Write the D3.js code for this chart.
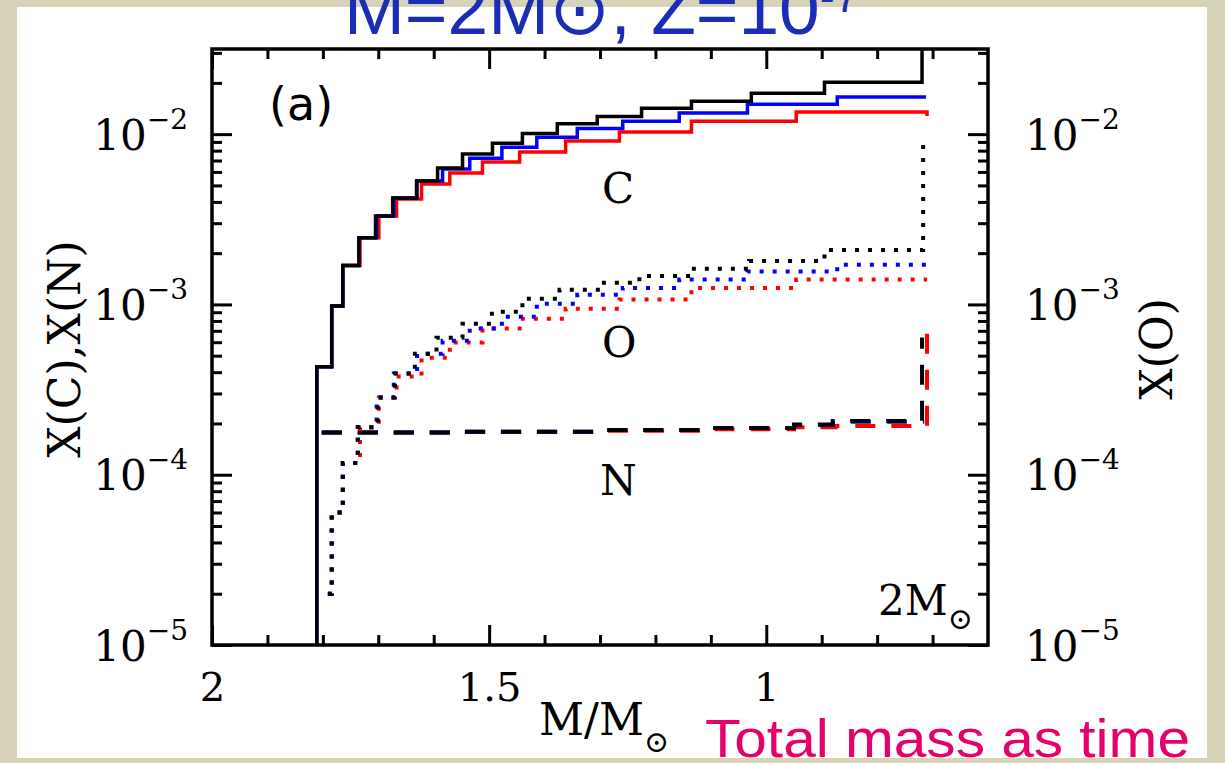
<!DOCTYPE html>
<html>
<head>
<meta charset="utf-8">
<script src="https://cdn.jsdelivr.net/npm/d3@7"></script>
<style>
  body { margin: 0; background: #d6d3b8; }
  svg { display: block; }
</style>
</head>
<body>
<div id="chart"></div>
<script>
// axis ranges
const massDomain = [2, 0.6];                    // M/Msun, decreasing with time
const abundDomain = [1e-5, Math.pow(10, -1.5)]; // surface mass fraction
const xMajor = [2, 1.5, 1];
const xMinor = [1.9, 1.8, 1.7, 1.6, 1.4, 1.3, 1.2, 1.1, 0.9, 0.8, 0.7];
const yDecades = [1e-5, 1e-4, 1e-3, 1e-2];
const yExponents = ["\u22125", "\u22124", "\u22123", "\u22122"];

// step curves: [M/Msun where the step starts, mass fraction]
// carbon (solid)
const cBlack = [[1.811, 1e-5], [1.811, 4.3e-4], [1.784, 9.8e-4], [1.764, 1.69e-3], [1.735, 2.46e-3],
  [1.705, 3.31e-3], [1.674, 4.22e-3], [1.631, 5.31e-3], [1.593, 6.32e-3], [1.548, 7.64e-3],
  [1.494, 8.85e-3], [1.440, 1.01e-2], [1.377, 1.15e-2], [1.305, 1.27e-2], [1.225, 1.42e-2],
  [1.135, 1.56e-2], [1.027, 1.74e-2], [0.895, 2.02e-2], [0.719, 5e-2]];
const cBlue = [[1.811, 1e-5], [1.811, 4.3e-4], [1.784, 9.8e-4], [1.764, 1.69e-3], [1.735, 2.46e-3],
  [1.703, 3.31e-3], [1.672, 4.22e-3], [1.630, 5.31e-3], [1.584, 6.24e-3], [1.535, 7.23e-3],
  [1.477, 8.39e-3], [1.414, 9.6e-3], [1.341, 1.08e-2], [1.259, 1.19e-2], [1.157, 1.33e-2],
  [1.034, 1.50e-2], [0.872, 1.65e-2], [0.712, 1.65e-2]];
const cRed = [[1.811, 1e-5], [1.811, 4.3e-4], [1.784, 9.8e-4], [1.764, 1.69e-3], [1.733, 2.46e-3],
  [1.699, 3.31e-3], [1.667, 4.16e-3], [1.622, 5.09e-3], [1.571, 5.91e-3], [1.512, 6.85e-3],
  [1.445, 7.85e-3], [1.362, 9.1e-3], [1.265, 1.03e-2], [1.135, 1.19e-2], [0.946, 1.35e-2],
  [0.710, 1.28e-2]];
// oxygen (dotted, right axis)
const oBlack = [[1.791, 2.0e-5], [1.784, 6.0e-5], [1.764, 1.17e-4], [1.737, 1.90e-4], [1.701, 2.84e-4],
  [1.670, 3.93e-4], [1.634, 5.14e-4], [1.595, 6.38e-4], [1.548, 7.7e-4], [1.495, 9.06e-4],
  [1.440, 1.08e-3], [1.373, 1.22e-3], [1.297, 1.34e-3], [1.229, 1.47e-3], [1.135, 1.62e-3],
  [1.031, 1.80e-3], [0.895, 2.09e-3], [0.717, 9.7e-3]];
const oBlue = [[1.791, 2.0e-5], [1.784, 6.0e-5], [1.764, 1.17e-4], [1.737, 1.90e-4], [1.703, 2.84e-4],
  [1.672, 3.93e-4], [1.630, 5.14e-4], [1.584, 6.12e-4], [1.535, 7.21e-4], [1.477, 8.47e-4],
  [1.414, 1.01e-3], [1.341, 1.14e-3], [1.259, 1.25e-3], [1.157, 1.40e-3], [1.034, 1.56e-3],
  [0.872, 1.71e-3], [0.712, 1.71e-3]];
const oRed = [[1.791, 2.0e-5], [1.784, 6.0e-5], [1.764, 1.17e-4], [1.733, 1.90e-4], [1.699, 2.84e-4],
  [1.667, 3.77e-4], [1.622, 4.87e-4], [1.571, 5.97e-4], [1.512, 7.21e-4], [1.445, 8.24e-4],
  [1.362, 9.44e-4], [1.265, 1.07e-3], [1.135, 1.25e-3], [0.946, 1.40e-3], [0.710, 1.40e-3]];
// nitrogen (dashed)
const nBlack = [[1.802, 1.77e-4], [1.55, 1.79e-4], [1.30, 1.83e-4], [1.10, 1.88e-4], [0.95, 1.97e-4],
  [0.88, 2.07e-4], [0.719, 6.4e-4]];
const nBlue = [[1.802, 1.77e-4], [1.55, 1.79e-4], [1.30, 1.83e-4], [1.10, 1.88e-4], [0.95, 1.96e-4],
  [0.88, 2.05e-4], [0.715, 2.05e-4]];
const nRed = [[1.802, 1.77e-4], [1.55, 1.78e-4], [1.30, 1.81e-4], [1.10, 1.85e-4], [0.95, 1.90e-4],
  [0.875, 1.93e-4], [0.710, 7.8e-4]];

const W = 1225, H = 763;
const box = {left: 212, right: 988, top: 49, bottom: 645};
const serif = "DejaVu Serif";

var svg = d3.select("#chart").append("svg")
  .attr("width", W)
  .attr("height", H);

// slide background + white panel
svg.append("rect").attr("width", W).attr("height", H).attr("fill", "#d6d3b8");
svg.append("rect").attr("x", 17).attr("y", 7).attr("width", 1190).attr("height", 751).attr("fill", "#fff");

var x = d3.scaleLinear().domain(massDomain).range([box.left, box.right]);
var y = d3.scaleLog().domain(abundDomain).range([box.bottom, box.top]);

var yMinor = [];
[-5, -4, -3, -2].forEach(function(k) {
  for (var m = 2; m <= 9; m++) {
    var v = m * Math.pow(10, k);
    if (v < abundDomain[1]) yMinor.push(v);
  }
});

function styleTicks(g) {
  g.select(".domain").remove();
  g.selectAll(".tick line").attr("stroke", "#000").attr("stroke-width", 3);
}

// minor ticks, all four sides (pointing inward)
svg.append("g").attr("transform", "translate(0," + box.bottom + ")")
  .call(d3.axisBottom(x).tickValues(xMinor).tickSize(-10).tickFormat("")).call(styleTicks);
svg.append("g").attr("transform", "translate(0," + box.top + ")")
  .call(d3.axisTop(x).tickValues(xMinor).tickSize(-10).tickFormat("")).call(styleTicks);
svg.append("g").attr("transform", "translate(" + box.left + ",0)")
  .call(d3.axisLeft(y).tickValues(yMinor).tickSize(-10).tickFormat("")).call(styleTicks);
svg.append("g").attr("transform", "translate(" + box.right + ",0)")
  .call(d3.axisRight(y).tickValues(yMinor).tickSize(-10).tickFormat("")).call(styleTicks);

// major ticks
var xb = svg.append("g").attr("transform", "translate(0," + box.bottom + ")")
  .call(d3.axisBottom(x).tickValues(xMajor).tickSize(-20).tickPadding(27).tickFormat(function(d) { return String(d); }))
  .call(styleTicks);
xb.selectAll("text").attr("font-family", serif).attr("font-size", 40).attr("fill", "#000")
  .attr("dy", null).attr("y", 56);

svg.append("g").attr("transform", "translate(0," + box.top + ")")
  .call(d3.axisTop(x).tickValues(xMajor).tickSize(-20).tickFormat("")).call(styleTicks);

function powerLabels(g) {
  g.selectAll(".tick text").each(function(d) {
    var t = d3.select(this).text(null).attr("dy", null).attr("y", 15)
      .attr("font-family", serif).attr("fill", "#000");
    t.append("tspan").attr("font-size", 42).text("10");
    t.append("tspan").attr("font-size", 28).attr("dy", -21).text(yExponents[yDecades.indexOf(d)]);
  });
}

svg.append("g").attr("transform", "translate(" + box.left + ",0)")
  .call(d3.axisLeft(y).tickValues(yDecades).tickSize(-20).tickPadding(24).tickFormat(""))
  .call(styleTicks).call(powerLabels);
svg.append("g").attr("transform", "translate(" + box.right + ",0)")
  .call(d3.axisRight(y).tickValues(yDecades).tickSize(-20).tickPadding(37).tickFormat(""))
  .call(styleTicks).call(powerLabels);

// curves
svg.append("clipPath").attr("id", "plot-clip")
  .append("rect").attr("x", box.left).attr("y", box.top)
  .attr("width", box.right - box.left).attr("height", box.bottom - box.top);

var step = d3.line()
  .x(function(d) { return x(d[0]); })
  .y(function(d) { return y(d[1]); })
  .curve(d3.curveStepAfter);

var series = [
  {data: nRed, color: "#ff0000", dash: "20 16"},
  {data: nBlue, color: "#0000ff", dash: "20 16"},
  {data: nBlack, color: "#000000", dash: "20 16"},
  {data: oRed, color: "#ff0000", dash: "4 9"},
  {data: oBlue, color: "#0000ff", dash: "4 9"},
  {data: oBlack, color: "#000000", dash: "4 9"},
  {data: cRed, color: "#ff0000", dash: null},
  {data: cBlue, color: "#0000ff", dash: null},
  {data: cBlack, color: "#000000", dash: null}
];

var lines = svg.append("g").attr("clip-path", "url(#plot-clip)");
lines.selectAll("path")
  .data(series)
  .enter()
  .append("path")
    .attr("d", function(d) { return step(d.data); })
    .attr("fill", "none")
    .attr("stroke", function(d) { return d.color; })
    .attr("stroke-width", function(d) { return d.dash ? 4 : 3.5; })
    .attr("stroke-dasharray", function(d) { return d.dash; });

// frame
svg.append("rect")
  .attr("x", box.left).attr("y", box.top)
  .attr("width", box.right - box.left).attr("height", box.bottom - box.top)
  .attr("fill", "none").attr("stroke", "#000").attr("stroke-width", 3.5);

// labels inside the panel
svg.append("text").attr("x", 269).attr("y", 120)
  .attr("font-family", "DejaVu Sans").attr("font-size", 46).text("(a)");

var inner = [["C", 602, 203], ["O", 602, 357], ["N", 600, 495]];
svg.selectAll(".elem")
  .data(inner)
  .enter()
  .append("text")
    .attr("class", "elem")
    .attr("x", function(d) { return d[1]; })
    .attr("y", function(d) { return d[2]; })
    .attr("font-family", serif).attr("font-size", 42)
    .text(function(d) { return d[0]; });

var mass = svg.append("text").attr("x", 878).attr("y", 615)
  .attr("font-family", serif).attr("font-size", 42);
mass.append("tspan").text("2M");
mass.append("tspan").attr("font-size", 30).attr("dy", 14).text("\u2299");

// axis titles
var xt = svg.append("text").attr("x", 539).attr("y", 735)
  .attr("font-family", serif).attr("font-size", 44);
xt.append("tspan").text("M/M");
xt.append("tspan").attr("font-size", 30).attr("dy", 17).text("\u2299");

svg.append("text").attr("transform", "translate(80,349) rotate(-90)")
  .attr("text-anchor", "middle").attr("font-family", serif).attr("font-size", 44)
  .text("X(C),X(N)");
svg.append("text").attr("transform", "translate(1172,349) rotate(-90)")
  .attr("text-anchor", "middle").attr("font-family", serif).attr("font-size", 44)
  .text("X(O)");

// slide text, stretched to the width it takes in the slide
function fitWidth(t, x0, x1) {
  var bb = t.node().getBBox();
  t.attr("transform", "translate(" + x0 + ",0) scale(" + ((x1 - x0) / bb.width) + ",1) translate(" + (-bb.x) + ",0)");
}

var title = svg.append("text").attr("x", 0).attr("y", 34)
  .attr("font-family", "Liberation Sans").attr("font-size", 72).attr("fill", "#1b2db4");
title.append("tspan").text("M=2M\u2299, Z=10");
title.append("tspan").attr("font-size", 44).attr("dy", -22).text("-7");
fitWidth(title, 344, 859);

var note = svg.append("text").attr("x", 0).attr("y", 757)
  .attr("font-family", "Liberation Sans").attr("font-size", 54).attr("fill", "#e5006a")
  .text("Total mass as time");
fitWidth(note, 705, 1190);
</script>
</body>
</html>
